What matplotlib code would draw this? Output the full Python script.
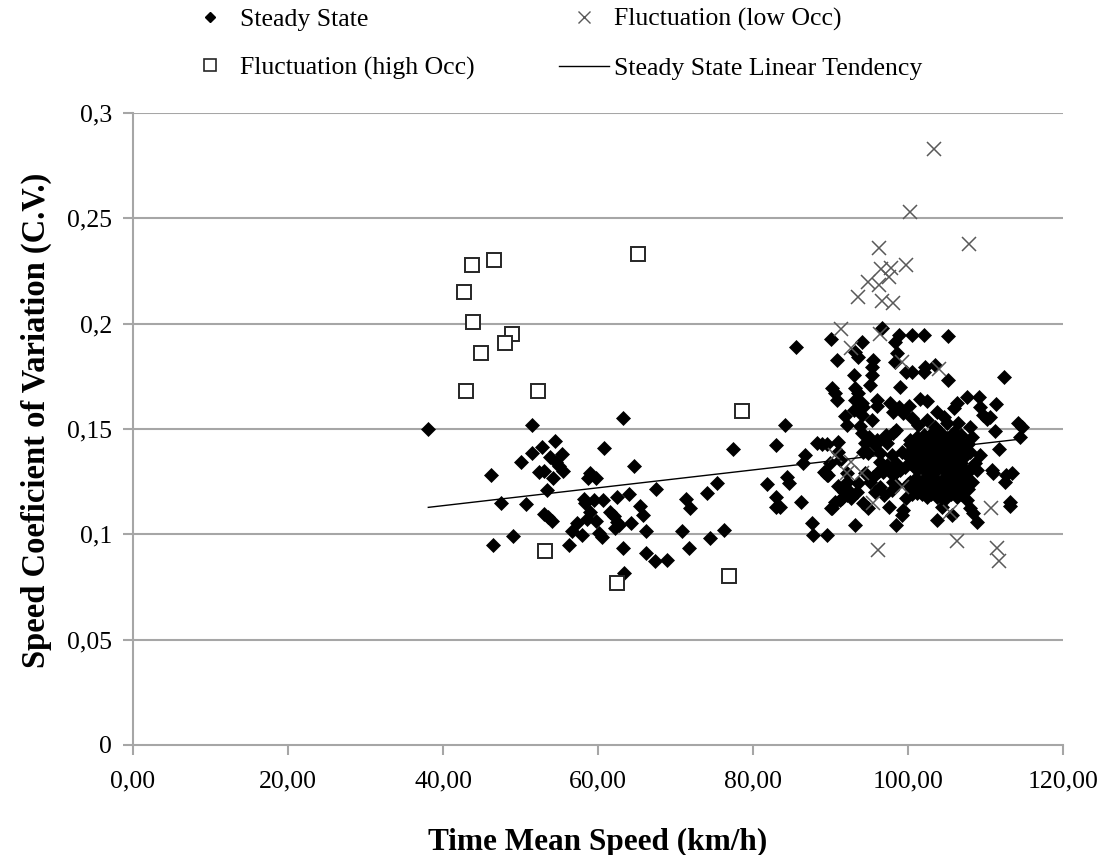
import numpy as np
import matplotlib
matplotlib.use('Agg')
import matplotlib.pyplot as plt
from matplotlib.lines import Line2D

plt.rcParams['font.family'] = ['Liberation Serif', 'DejaVu Serif']

# steady state points (speed km/h, coefficient of variation)
steady_x = [38.1, 51.5, 63.2, 54.5, 52.8, 55.3, 51.5, 60.8, 53.8, 50.1, 54.6, 55.0, 55.5,
            46.2, 52.4, 53.0, 54.2, 58.9, 59.7, 58.7, 64.6, 77.4, 83.0, 53.4, 67.5, 75.3,
            81.8, 47.5, 50.7, 58.2, 58.3, 59.5, 60.6, 62.5, 64.0, 71.4, 74.0, 83.0, 83.0,
            65.4, 71.9, 53.0, 53.6, 54.1, 58.9, 61.6, 62.0, 65.8, 58.6, 59.8, 62.5, 62.7,
            57.3, 64.3, 62.2, 56.7, 57.9, 60.1, 60.5, 66.2, 70.8, 76.3, 49.0, 74.5, 46.5,
            56.2, 63.2, 71.7, 66.2, 67.4, 68.9, 63.3,
            96.6, 90.0, 94.0, 98.8, 98.3, 100.5, 102.1, 105.1, 85.6, 93.2, 93.6, 98.6, 90.8,
            95.5, 98.3, 95.3, 99.8, 100.5, 102.2, 103.5, 102.0, 93.0, 95.3, 95.1, 105.1,
            112.4, 99.0, 90.2, 90.6, 93.2, 93.6, 90.8, 96.0, 93.2, 94.0, 96.0, 97.7, 98.8,
            100.1, 101.5, 102.4, 107.6, 109.1, 106.3, 105.9, 109.3, 111.4, 93.0, 94.2, 98.1,
            99.4, 91.9, 94.0, 95.3, 100.5, 103.7, 104.6, 109.7, 110.2, 110.6, 92.1, 93.8,
            101.3, 84.1, 102.4, 103.5, 105.0, 106.5, 108.0, 114.2, 114.7, 111.2, 94.0, 98.1,
            98.5, 97.3, 101.1, 102.0, 103.1, 104.1, 105.9, 106.9, 108.2, 114.5, 88.2, 88.9,
            89.5, 91.0, 94.5, 95.7, 97.3, 100.3, 102.0, 103.7, 105.0, 106.7, 107.6, 111.7,
            86.7, 91.0, 94.2, 94.9, 96.4, 97.9, 99.2, 100.7, 102.4, 103.7, 105.2, 106.5,
            108.0, 109.3, 86.5, 89.9, 91.2, 96.4, 97.3, 98.5, 100.3, 101.5, 102.8, 104.1,
            105.4, 106.9, 108.6, 84.4, 84.6, 89.1, 89.5, 92.1, 94.5, 95.5, 96.8, 98.1, 99.0,
            101.1, 102.4, 103.7, 105.0, 106.3, 107.6, 108.9, 110.8, 111.0, 112.7, 113.4,
            92.1, 93.6, 95.1, 96.4, 98.1, 98.5, 100.3, 102.0, 103.3, 104.6, 105.9, 107.2,
            108.2, 112.5, 83.5, 86.2, 91.7, 92.5, 91.5, 90.6, 90.2, 92.7, 94.2, 94.9, 97.5,
            99.4, 99.8, 101.1, 102.4, 103.7, 104.6, 105.0, 106.3, 107.6, 108.0, 108.4, 108.9,
            105.7, 104.4, 113.2, 113.2, 99.2, 98.5, 93.2, 103.8, 87.6, 87.8, 89.5, 89.3,
            89.7, 90.1, 91.2, 92.1,
            100.8, 101.9, 103.0, 104.2, 105.3, 106.4, 100.6, 101.8, 103.1, 104.3, 105.6,
            106.8, 101.2, 102.5, 103.8, 105.0, 106.2, 101.0, 102.2, 103.4, 104.7, 105.9,
            107.1, 100.4, 101.7, 102.9, 104.1, 105.4, 106.6, 107.8,
            99.6, 100.9, 102.0, 103.3, 104.5, 105.8, 107.0, 108.2,
            99.9, 101.2, 102.6, 103.9, 105.1, 106.3, 107.5,
            100.2, 101.5, 102.7, 104.0, 105.2, 106.5, 107.7,
            100.0, 101.3, 102.5, 103.7, 104.9, 106.1, 107.3,
            100.5, 101.8, 103.0, 104.3, 105.6, 106.9,
            95.8, 96.9, 97.9, 96.2, 97.4, 98.6, 95.0, 96.0, 97.1, 91.0, 92.2, 93.4]
steady_y = [0.1502, 0.1521, 0.155, 0.1442, 0.1416, 0.1381, 0.1387, 0.1411, 0.1369, 0.1341,
            0.1345, 0.1324, 0.1302, 0.1282, 0.1297, 0.1302, 0.1269, 0.1292, 0.1269, 0.1265,
            0.1324, 0.1403, 0.1424, 0.121, 0.1216, 0.1244, 0.1241, 0.1147, 0.1142, 0.117,
            0.1147, 0.1163, 0.1163, 0.1178, 0.1191, 0.1168, 0.1197, 0.1178, 0.113, 0.1135,
            0.1123, 0.1096, 0.108, 0.1064, 0.1106, 0.1106, 0.1087, 0.1092, 0.1071, 0.1063,
            0.106, 0.1044, 0.1054, 0.1054, 0.1028, 0.1016, 0.0997, 0.1004, 0.0988, 0.1016,
            0.1016, 0.1021, 0.0992, 0.0983, 0.0949, 0.0949, 0.0937, 0.0937, 0.0912, 0.0873,
            0.088, 0.0814,
            0.1978, 0.1925, 0.1914, 0.1946, 0.1914, 0.1946, 0.1946, 0.1941, 0.1891, 0.1867,
            0.1843, 0.1862, 0.1827, 0.1827, 0.1819, 0.1796, 0.1772, 0.1772, 0.1796, 0.1804,
            0.1772, 0.1756, 0.1756, 0.1709, 0.1733, 0.1745, 0.1698, 0.1693, 0.1669, 0.1693,
            0.1669, 0.1638, 0.1638, 0.1638, 0.1622, 0.1609, 0.1622, 0.1606, 0.1609, 0.1641,
            0.1634, 0.1654, 0.1654, 0.1622, 0.1598, 0.1606, 0.1619, 0.159, 0.1606, 0.1583,
            0.1575, 0.1562, 0.1567, 0.1543, 0.1551, 0.1583, 0.1559, 0.1567, 0.1546, 0.1556,
            0.1519, 0.1514, 0.1519, 0.1519, 0.1543, 0.1511, 0.1527, 0.153, 0.1511, 0.1527,
            0.1511, 0.1491, 0.148, 0.148, 0.1495, 0.1464, 0.1464, 0.1472, 0.148, 0.1488,
            0.1488, 0.1472, 0.1464, 0.1464, 0.1432, 0.1429, 0.1429, 0.144, 0.1432, 0.1424,
            0.1432, 0.1448, 0.1432, 0.144, 0.1432, 0.144, 0.1432, 0.1404, 0.1377, 0.1393,
            0.1393, 0.1385, 0.1388, 0.1377, 0.1393, 0.1377, 0.1401, 0.1385, 0.1393, 0.1385,
            0.1393, 0.1377, 0.1337, 0.1337, 0.1353, 0.1345, 0.1329, 0.1337, 0.1337, 0.1337,
            0.1337, 0.1345, 0.1337, 0.1337, 0.1337, 0.1274, 0.1242, 0.1298, 0.1282, 0.129,
            0.129, 0.1274, 0.1298, 0.1282, 0.1306, 0.1306, 0.129, 0.1306, 0.129, 0.1298,
            0.129, 0.1306, 0.1306, 0.129, 0.1282, 0.129, 0.125, 0.1242, 0.125, 0.1226,
            0.125, 0.1234, 0.125, 0.1242, 0.125, 0.1234, 0.125, 0.1234, 0.125, 0.125,
            0.1131, 0.1155, 0.1202, 0.1195, 0.1171, 0.1155, 0.1124, 0.1171, 0.1148, 0.1124,
            0.1131, 0.1116, 0.1171, 0.1195, 0.1179, 0.1179, 0.1163, 0.1195, 0.1179, 0.1163,
            0.1124, 0.11, 0.106, 0.1092, 0.1131, 0.1155, 0.1135, 0.1092, 0.1045, 0.1045,
            0.1068, 0.1052, 0.0997, 0.0997, 0.1298, 0.1282, 0.1124, 0.1163, 0.1187,
            0.1355, 0.1355, 0.1355, 0.1355, 0.1355, 0.1355, 0.141, 0.141, 0.141, 0.141, 0.141,
            0.141, 0.1455, 0.1455, 0.1455, 0.1455, 0.1455, 0.1265, 0.1265, 0.1265, 0.1265,
            0.1265, 0.1265, 0.1215, 0.1215, 0.1215, 0.1215, 0.1215, 0.1215, 0.1215,
            0.1320, 0.1320, 0.1320, 0.1320, 0.1320, 0.1320, 0.1320, 0.1320,
            0.1375, 0.1375, 0.1375, 0.1375, 0.1375, 0.1375, 0.1375,
            0.1430, 0.1430, 0.1430, 0.1430, 0.1430, 0.1430, 0.1430,
            0.1240, 0.1240, 0.1240, 0.1240, 0.1240, 0.1240, 0.1240,
            0.1190, 0.1190, 0.1190, 0.1190, 0.1190, 0.1190,
            0.1200, 0.1185, 0.1210, 0.1300, 0.1315, 0.1300, 0.1460, 0.1450, 0.1470,
            0.1230, 0.1210, 0.1200]

# fluctuation, low occupancy
low_x = [103.3, 100.2, 96.2, 107.9, 99.7, 96.5, 97.8, 97.5, 94.9, 96.3, 93.6, 96.7, 98.1,
         91.4, 96.4, 92.6, 99.2, 104.0, 90.6, 92.7, 94.0, 92.1, 99.2, 95.5, 105.4, 110.7,
         106.3, 96.1, 111.5, 111.8]
low_y = [0.2827, 0.253, 0.236, 0.2376, 0.228, 0.2258, 0.2266, 0.2223, 0.22, 0.2184, 0.2128,
         0.2107, 0.2099, 0.1973, 0.1951, 0.1883, 0.182, 0.1783, 0.1377, 0.1345, 0.1289,
         0.1289, 0.1225, 0.115, 0.1108, 0.1125, 0.097, 0.0926, 0.0933, 0.0875]

# fluctuation, high occupancy
high_x = [43.7, 46.6, 42.7, 43.9, 48.9, 48.0, 44.9, 43.0, 52.3, 65.1, 78.6, 53.2, 62.5, 76.9]
high_y = [0.228, 0.230, 0.215, 0.201, 0.195, 0.191, 0.186, 0.168, 0.168, 0.233, 0.1585,
          0.092, 0.077, 0.080]

# steady state linear tendency
trend_x = [38.1, 114.5]
trend_y = [0.1128, 0.1452]

xticks = [0, 20, 40, 60, 80, 100, 120]
xtick_labels = ['0,00', '20,00', '40,00', '60,00', '80,00', '100,00', '120,00']
yticks = [0, 0.05, 0.1, 0.15, 0.2, 0.25, 0.3]
ytick_labels = ['0', '0,05', '0,1', '0,15', '0,2', '0,25', '0,3']

fig = plt.figure(figsize=(11.05, 8.55), dpi=100)
ax = fig.add_axes([0.1204, 0.1287, 0.8416, 0.7391])

grid_c = '#a6a6a6'
for yv in yticks[1:]:
    ax.axhline(yv, color=grid_c, lw=1.5, zorder=0)

ax.plot(steady_x, steady_y, 'D', ms=7.2, color='black', mec='black', mew=0.5, zorder=3)
ax.plot(low_x, low_y, 'x', ms=10.5, color='#595959', mew=1.1, zorder=4)
ax.plot(high_x, high_y, 's', ms=10, mfc='white', mec='#262626', mew=1.4, zorder=4)
ax.plot(trend_x, trend_y, '-', color='black', lw=1.0, zorder=5)

ax.set_xlim(0, 120)
ax.set_ylim(0, 0.3)
ax.set_xticks(xticks)
ax.set_xticklabels(xtick_labels)
ax.set_yticks(yticks)
ax.set_yticklabels(ytick_labels)
ax.tick_params(axis='both', colors=grid_c, labelcolor='black', labelsize=18.5,
               length=7, width=1.5, direction='out')
ax.tick_params(axis='x', pad=11)
ax.tick_params(axis='y', pad=8)
for s in ['top', 'right']:
    ax.spines[s].set_visible(False)
for s in ['left', 'bottom']:
    ax.spines[s].set_color(grid_c)
    ax.spines[s].set_linewidth(1.5)

ax.set_xlabel('Time Mean Speed (km/h)', fontsize=22.5, fontweight='bold', labelpad=26)
ax.set_ylabel('Speed Coeficient of Variation (C.V.)', fontsize=23.5, fontweight='bold',
              labelpad=10)
ax.yaxis.set_label_coords(-0.087, 0.513)

handles = [
    Line2D([], [], ls='none', marker='D', ms=5, color='black'),
    Line2D([], [], ls='none', marker='s', ms=8, mfc='white', mec='#262626', mew=1.2),
    Line2D([], [], ls='none', marker='x', ms=8, color='#595959', mew=1.0),
    Line2D([], [], color='black', lw=1.0),
]
labels = ['Steady State', 'Fluctuation (high Occ)', 'Fluctuation (low Occ)',
          'Steady State Linear Tendency']
fig.legend(handles, labels, ncol=2, loc='upper left', bbox_to_anchor=(0.167, 0.991),
           frameon=False, fontsize=18.5, handlelength=1.95, columnspacing=3.3,
           labelspacing=1.0, handletextpad=0.2, borderpad=0, borderaxespad=0)

fig.savefig('out.png', dpi=100)
